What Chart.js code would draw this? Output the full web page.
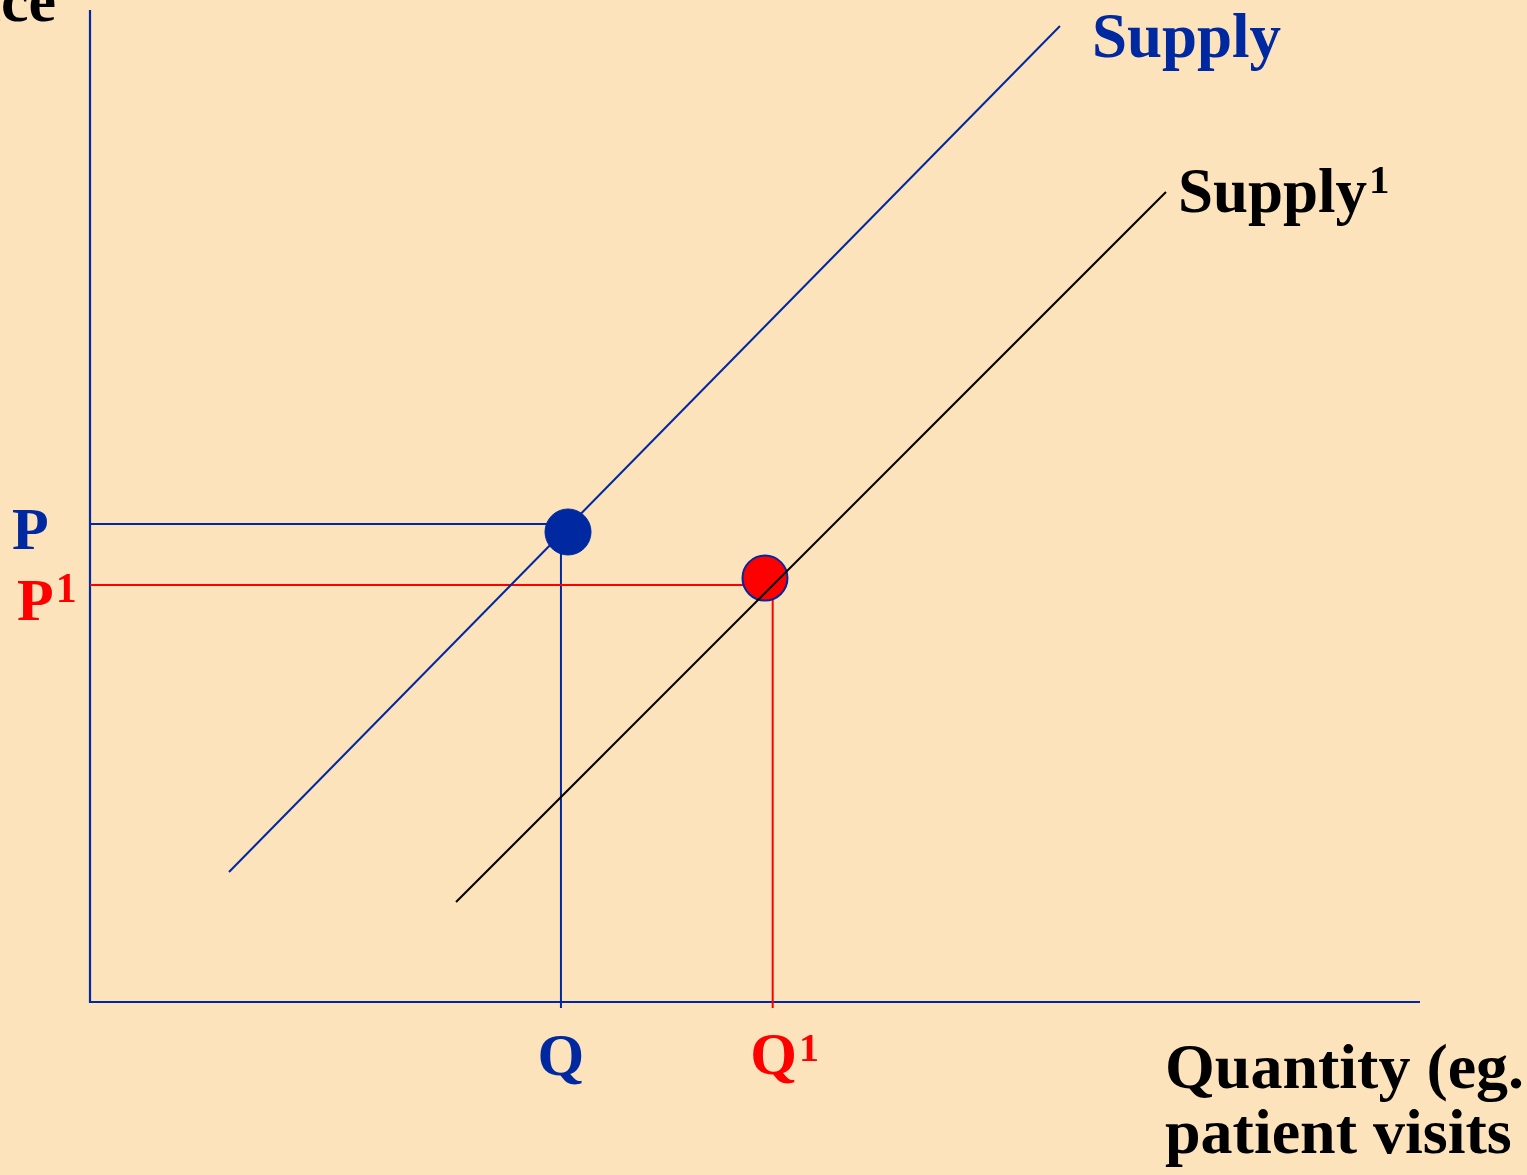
<!DOCTYPE html>
<html><head><meta charset="utf-8">
<script src="https://cdn.jsdelivr.net/npm/chart.js@4/dist/chart.umd.min.js"></script>
<style>html,body{margin:0;padding:0;background:#FCE3BC;overflow:hidden}#wrap{width:1527px;height:1175px;position:relative}</style>
</head><body><div id="wrap"><canvas id="c" width="1527" height="1175"></canvas></div>
<script>
// ---- data (axis units: 0..100 on both axes) ----
const supplyX = [10.45, 72.93];
const supplyY = [13.1, 98.39];
const supply1X = [27.52, 80.9];
const supply1Y = [10.08, 81.65];
const priceLevels = [48.19, 42.04];      // P, P1
const quantityLevels = [35.41, 51.33];   // Q, Q1
const dotX = [35.94, 50.75];             // equilibrium markers
const dotY = [47.38, 42.74];
const axisFloor = -0.6;                  // guide lines dip just below the axis
const priceLabels = ['P', 'P'];
const priceSups = ['', '1'];
const quantityLabels = ['Q', 'Q'];
const quantitySups = ['', '1'];
const curveLabels = ['Supply', 'Supply'];
const curveSups = ['', '1'];
const yAxisTitle = 'Price';
const xAxisTitle = ['Quantity (eg.', 'patient visits'];

const BLUE = '#0028A0', RED = '#FF0000', BLACK = '#000000', BG = '#FCE3BC';
const SERIF = "'Liberation Serif','Times New Roman',Times,serif";

function pts(xs, ys) { return xs.map((x, i) => ({x, y: ys[i]})); }
function lineDs(data, color, w) {
  return {type: 'scatter', data, showLine: true, borderColor: color, borderWidth: w,
    pointRadius: 0, pointHoverRadius: 0, fill: false, clip: false};
}

const datasets = [
  lineDs(pts(supply1X, supply1Y), BLACK, 2),
  {type: 'scatter', data: [{x: dotX[1], y: dotY[1]}], pointRadius: 22.5, pointHoverRadius: 22.5,
   backgroundColor: RED, borderColor: BLUE, borderWidth: 2, clip: false},
  {type: 'scatter', data: [{x: dotX[0], y: dotY[0]}], pointRadius: 23, pointHoverRadius: 23,
   backgroundColor: BLUE, borderColor: BLUE, borderWidth: 1, clip: false},
  lineDs(pts(supplyX, supplyY), BLUE, 2),
  lineDs([{x: 0, y: priceLevels[1]}, {x: dotX[1], y: priceLevels[1]}], RED, 2),
  lineDs([{x: quantityLevels[1], y: axisFloor}, {x: quantityLevels[1], y: dotY[1]}], RED, 2),
  lineDs([{x: 0, y: priceLevels[0]}, {x: dotX[0], y: priceLevels[0]}], BLUE, 2),
  lineDs([{x: quantityLevels[0], y: axisFloor}, {x: quantityLevels[0], y: dotY[0]}], BLUE, 2)
];

function drawSup(ctx, base, sup, x, y, size, supSize, supRaise, color, align) {
  ctx.fillStyle = color;
  ctx.textBaseline = 'alphabetic';
  ctx.font = 'bold ' + size + 'px ' + SERIF;
  const w = ctx.measureText(base).width;
  let left = x;
  if (align === 'center') left = x - w / 2;
  ctx.textAlign = 'left';
  ctx.fillText(base, left, y);
  if (sup) {
    ctx.font = 'bold ' + supSize + 'px ' + SERIF;
    ctx.fillText(sup, left + w + 2, y - supRaise);
  }
}

const bgPlugin = {
  id: 'bg',
  beforeDraw(chart) {
    const ctx = chart.ctx;
    ctx.save(); ctx.fillStyle = BG; ctx.fillRect(0, 0, chart.width, chart.height); ctx.restore();
  }
};

// axis lines drawn along the scales' extents
const axesPlugin = {
  id: 'axes',
  beforeDatasetsDraw(chart) {
    const ctx = chart.ctx, xs = chart.scales.x, ys = chart.scales.y;
    const x0 = xs.getPixelForValue(xs.min), x1 = xs.getPixelForValue(xs.max);
    const y0 = ys.getPixelForValue(ys.min), y1 = ys.getPixelForValue(ys.max);
    ctx.save();
    ctx.strokeStyle = BLUE; ctx.lineWidth = 2.2;
    ctx.beginPath();
    ctx.moveTo(x0, y1); ctx.lineTo(x0, y0); ctx.lineTo(x1, y0);
    ctx.stroke();
    ctx.restore();
  }
};

const labelPlugin = {
  id: 'labels',
  afterDraw(chart) {
    const ctx = chart.ctx, xs = chart.scales.x, ys = chart.scales.y, ca = chart.chartArea;
    ctx.save();
    const sEndX = xs.getPixelForValue(supplyX[1]), sEndY = ys.getPixelForValue(supplyY[1]);
    drawSup(ctx, curveLabels[0], curveSups[0], sEndX + 32, sEndY + 31, 63, 41, 20, BLUE, 'left');
    const s1EndX = xs.getPixelForValue(supply1X[1]), s1EndY = ys.getPixelForValue(supply1Y[1]);
    drawSup(ctx, curveLabels[1], curveSups[1], s1EndX + 12, s1EndY + 20, 63, 41, 19, BLACK, 'left');
    const p0 = ys.getPixelForValue(priceLevels[0]);
    drawSup(ctx, priceLabels[0], priceSups[0], ca.left - 78, p0 + 25, 60, 42, 18, BLUE, 'left');
    const p1 = ys.getPixelForValue(priceLevels[1]);
    drawSup(ctx, priceLabels[1], priceSups[1], ca.left - 73, p1 + 35, 60, 42, 18, RED, 'left');
    const q0 = xs.getPixelForValue(quantityLevels[0]);
    drawSup(ctx, quantityLabels[0], quantitySups[0], q0, ca.bottom + 73, 60, 40, 14, BLUE, 'center');
    const q1 = xs.getPixelForValue(quantityLevels[1]);
    drawSup(ctx, quantityLabels[1], quantitySups[1], q1 + 1, ca.bottom + 72, 60, 40, 13, RED, 'center');
    ctx.font = 'bold 62px ' + SERIF;
    ctx.fillStyle = BLACK;
    ctx.textAlign = 'right';
    ctx.fillText(yAxisTitle, ca.left - 34, ca.top + 11);
    ctx.textAlign = 'left';
    ctx.font = 'bold 64px ' + SERIF;
    ctx.fillText(xAxisTitle[0], ca.right - 255, ca.bottom + 86);
    ctx.fillText(xAxisTitle[1], ca.right - 255, ca.bottom + 151);
    ctx.restore();
  }
};

new Chart(document.getElementById('c'), {
  type: 'scatter',
  data: {datasets},
  options: {
    responsive: false,
    animation: false,
    devicePixelRatio: 1,
    events: [],
    layout: {autoPadding: false, padding: {left: 90, top: 10, right: 107, bottom: 173}},
    plugins: {legend: {display: false}, tooltip: {enabled: false}},
    scales: {
      x: {type: 'linear', min: 0, max: 100, display: false},
      y: {type: 'linear', min: 0, max: 100, display: false}
    }
  },
  plugins: [bgPlugin, axesPlugin, labelPlugin]
});
</script>
</body></html>
